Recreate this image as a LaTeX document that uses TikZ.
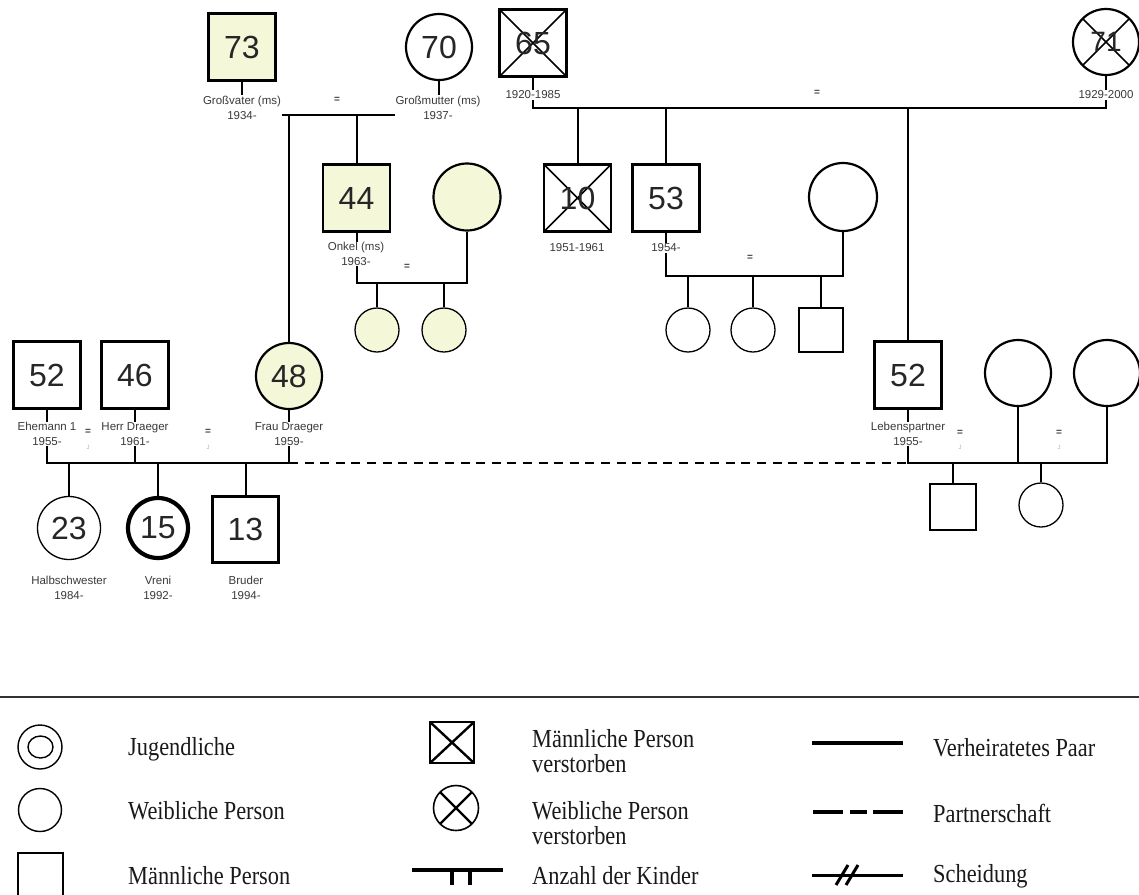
\documentclass[tikz,border=0pt]{standalone}
\usepackage{fontspec}
\setmainfont{Liberation Serif}
\setsansfont{Liberation Sans}
\newfontfamily\legendfont{Liberation Serif}[FakeStretch=0.86]
\usetikzlibrary{calc}
\definecolor{pale}{HTML}{F5F7D9}
\definecolor{labelgray}{HTML}{3A3A3A}

\begin{document}
\begin{tikzpicture}[x=1pt,y=-1pt,
  person/.style={draw, inner sep=0pt, line width=2.2pt, text=black!85,
    font=\sffamily\fontsize{32}{32}\selectfont},
  male/.style={person, rectangle, minimum size=67pt},
  female/.style={person, circle, minimum size=66pt},
  kidf/.style={draw, circle, inner sep=0pt, minimum size=44pt, line width=1.3pt},
  kidm/.style={draw, rectangle, inner sep=0pt, minimum size=45pt, line width=1.3pt},
  yel/.style={fill=pale},
  dead/.style={path picture={
    \draw[line width=1.5pt]
      (path picture bounding box.north west) -- (path picture bounding box.south east)
      (path picture bounding box.north east) -- (path picture bounding box.south west);}},
  lbl/.style={fill=white, inner sep=0.6pt, align=center, text=labelgray,
    font=\sffamily\fontsize{11.5}{15}\selectfont},
  wed/.style={inner sep=0pt, text=black!75, font=\sffamily\bfseries\fontsize{10}{10}\selectfont},
  faint/.style={inner sep=0pt, text=black!30, font=\sffamily\fontsize{6}{6}\selectfont},
  link/.style={line width=2pt, black},
  partner/.style={link, dash pattern=on 9pt off 6.6pt},
  legtext/.style={anchor=west, align=left, inner sep=0pt, text=black!90,
    font=\legendfont\fontsize{26}{25}\selectfont},
]
\useasboundingbox[fill=white] (0,0) rectangle (1139,894);

% ---------- persons: oldest generation
\node[male, yel] (gf) at (242,47) {73};
\node[female] (gm) at (439,47) {70};
\node[male, dead] (ggf) at (533,43) {65};
\node[female, dead, font=\sffamily\fontsize{28}{28}\selectfont] (ggm) at (1106,42) {71};

% ---------- middle generation
\node[male, yel] (onkel) at (356.5,198) {44};
\node[female, yel, minimum size=67pt] (tante) at (467,197) {};
\node[kidf, yel] (ok1) at (377,330) {};
\node[kidf, yel] (ok2) at (444,330) {};

\node[male, dead] (d10) at (577.5,198) {10};
\node[male] (u53) at (666,198) {53};
\node[female, minimum size=68pt] (w53) at (843,197) {};
\node[kidf] (k1) at (688,330) {};
\node[kidf] (k2) at (753,330) {};
\node[kidm, minimum size=44pt] (k3) at (821,330) {};

% ---------- parents row
\node[male] (eh1) at (47,375) {52};
\node[male] (herr) at (135,375) {46};
\node[female, yel] (frau) at (289,376) {48};
\node[male] (lp) at (908,375) {52};
\node[female] (lw1) at (1018,373) {};
\node[female] (lw2) at (1107,373) {};

% ---------- children row
\node[female, minimum size=63pt, line width=1.3pt] (hs) at (69,528) {23};
\node[female, minimum size=60pt, line width=4.2pt] (vreni) at (158,528) {15};
\node[male, minimum size=66pt] (bruder) at (245.5,529.5) {13};
\node[kidm, minimum size=46pt] (lk1) at (953,507) {};
\node[kidf] (lk2) at (1041,505) {};

% ---------- relationship lines
\coordinate (mA) at (0,115);
\coordinate (mB) at (0,108);
\coordinate (mC) at (0,283);
\coordinate (mD) at (0,276);
\coordinate (mE) at (0,463);

\draw[link] (gf.south) -- (gf.south |- mA) -- (gm.south |- mA) -- (gm.south);
\draw[link] (frau.north |- mA) -- (frau.north);
\draw[link] (onkel.north |- mA) -- (onkel.north);

\draw[link] (ggf.south) -- (ggf.south |- mB) -- (ggm.south |- mB) -- (ggm.south);
\draw[link] (d10.north |- mB) -- (d10.north);
\draw[link] (u53.north |- mB) -- (u53.north);
\draw[link] (lp.north |- mB) -- (lp.north);

\draw[link] (onkel.south) -- (onkel.south |- mC) -- (tante.south |- mC) -- (tante.south);
\draw[link] (ok1.north |- mC) -- (ok1.north);
\draw[link] (ok2.north |- mC) -- (ok2.north);

\draw[link] (u53.south) -- (u53.south |- mD) -- (w53.south |- mD) -- (w53.south);
\draw[link] (k1.north |- mD) -- (k1.north);
\draw[link] (k2.north |- mD) -- (k2.north);
\draw[link] (k3.north |- mD) -- (k3.north);

\draw[link] (eh1.south) -- (eh1.south |- mE) -- (frau.south |- mE) -- (frau.south);
\draw[link] (herr.south) -- (herr.south |- mE);
\draw[partner] (frau.south |- mE) -- (lp.south |- mE);
\draw[link] (lp.south) -- (lp.south |- mE) -- (lw2.south |- mE) -- (lw2.south);
\draw[link] (lw1.south) -- (lw1.south |- mE);
\draw[link] (hs.north |- mE) -- (hs.north);
\draw[link] (vreni.north |- mE) -- (vreni.north);
\draw[link] (bruder.north |- mE) -- (bruder.north);
\draw[link] (lk1.north |- mE) -- (lk1.north);
\draw[link] (lk2.north |- mE) -- (lk2.north);

% ---------- names and years
\node[lbl] (lgf) at (242,107.5) {Großvater (ms)\\1934-};
\node[lbl] (lgm) at (438,107.5) {Großmutter (ms)\\1937-};
\node[lbl] (lggf) at (533,95) {1920-1985};
\node[lbl] (lggm) at (1106,95) {1929-2000};
\node[lbl] (lonkel) at (356,254) {Onkel (ms)\\1963-};
\node[lbl] (ld10) at (577,248) {1951-1961};
\node[lbl] (lu53) at (666,248) {1954-};
\node[lbl] (leh1) at (47,434) {Ehemann 1\\1955-};
\node[lbl] (lherr) at (135,434) {Herr Draeger\\1961-};
\node[lbl] (lfrau) at (289,434) {Frau Draeger\\1959-};
\node[lbl] (llp) at (908,434) {Lebenspartner\\1955-};
\node[lbl] (lhs) at (69,588) {Halbschwester\\1984-};
\node[lbl] (lvreni) at (158,588) {Vreni\\1992-};
\node[lbl] (lbruder) at (246,588) {Bruder\\1994-};

% ---------- marriage marks
\node[wed] (w1) at (337,100) {=};
\node[wed] (w2) at (817,93) {=};
\node[wed] (w3) at (407,267) {=};
\node[wed] (w4) at (750,258) {=};
\node[wed] (w5) at (88,432) {=};
\node[faint] (f5) at (88,447) {J};
\node[wed] (w6) at (208,432) {=};
\node[faint] (f6) at (208,447) {J};
\node[wed] (w7) at (960,433) {=};
\node[faint] (f7) at (960,447) {J};
\node[wed] (w8) at (1059,433) {=};
\node[faint] (f8) at (1059,447) {J};

% ---------- legend
\draw[line width=2pt, black!80] (0,697) -- (1139,697);

% column 1
\draw[line width=1.4pt] (40,747) circle[radius=22];
\draw[line width=1.4pt] (40.5,747) ellipse[x radius=12.5, y radius=11];
\node[legtext] (t1) at (128,749) {Jugendliche};
\draw[line width=1.4pt] (40,810) circle[radius=21.5];
\node[legtext] (t2) at (128,811) {Weibliche Person};
\draw[line width=1.4pt] (18,853) rectangle (63,900);
\node[legtext] (t3) at (128,876) {Männliche Person};

% column 2
\draw[line width=1.6pt] (430,722) rectangle (474,763);
\draw[line width=2.4pt] (430,722) -- (474,763) (474,722) -- (430,763);
\draw[line width=1.6pt] (456,808) circle[radius=22.5];
\draw[line width=2.4pt] (456,808) +(45:22.5) -- +(225:22.5) +(135:22.5) -- +(315:22.5);
\node[legtext, align=left] (t4) at (532,751) {Männliche Person\\[0pt]verstorben};
\node[legtext, align=left] (t5) at (532,823) {Weibliche Person\\[0pt]verstorben};
\draw[line width=4pt] (412,870) -- (503,870);
\draw[line width=4pt] (452,870) -- (452,885) (470,870) -- (470,885);
\node[legtext] (t6) at (532,876) {Anzahl der Kinder};

% column 3
\draw[line width=4pt] (812,743) -- (903,743);
\node[legtext] (t7) at (933,748) {Verheiratetes Paar};
\draw[line width=4pt] (813,812) -- (843,812) (850,812) -- (867,812) (873,812) -- (903,812);
\node[legtext] (t8) at (933,813) {Partnerschaft};
\draw[line width=3pt] (812,875) -- (903,875);
\draw[line width=3pt] (836,885) -- (848,865) (846,885) -- (858,865);
\node[legtext] (t9) at (933,876) {Scheidung};
\end{tikzpicture}
\end{document}
